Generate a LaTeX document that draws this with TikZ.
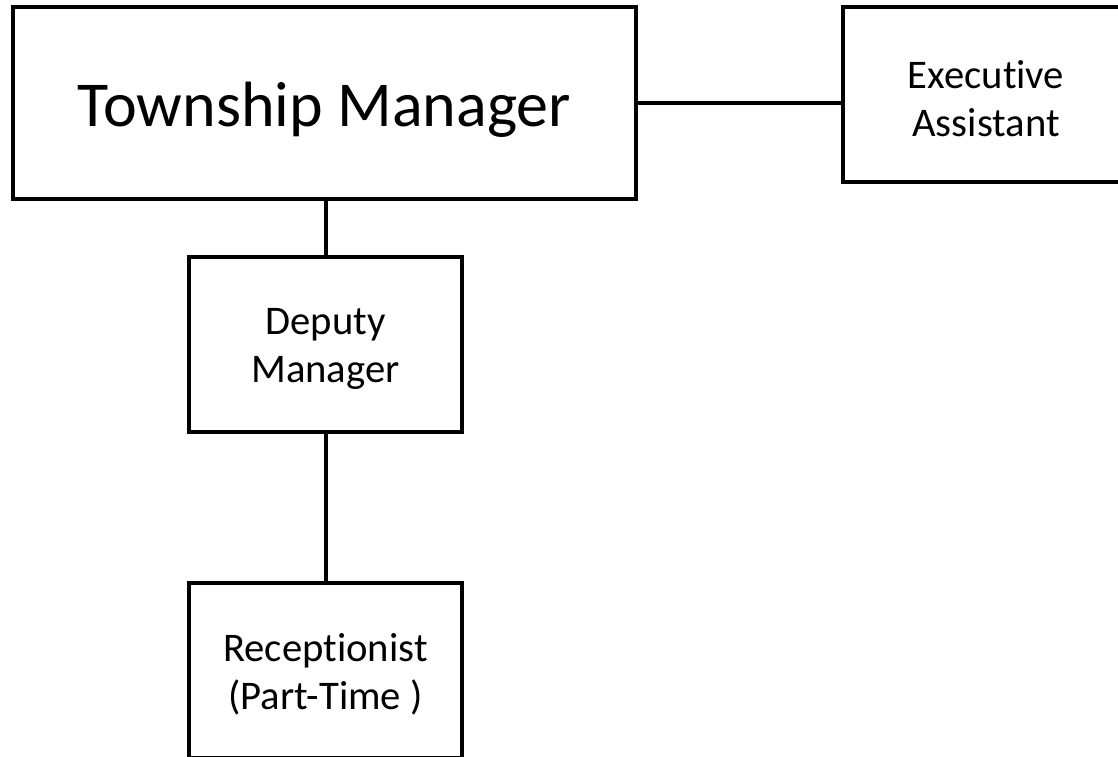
\documentclass[tikz,border=0pt]{standalone}
\usepackage{fontspec}
\setmainfont[Ligatures={NoCommon}]{Carlito}
\begin{document}
\begin{tikzpicture}[x=0.75pt,y=-0.75pt,
  box/.style={draw=black,line width=3pt,rectangle,inner sep=0pt,
    minimum width=204.75pt,minimum height=131.25pt},
  txt/.style={align=center,inner sep=0pt,yshift=-3pt,
    font=\fontsize{30.5pt}{36pt}\selectfont},
  bigtxt/.style={align=center,inner sep=0pt,yshift=-5.25pt,
    font=\fontsize{48pt}{56pt}\selectfont},
  conn/.style={draw=black,line width=3pt}]
\useasboundingbox (0,0) rectangle (1118,757);
\clip (0,0) rectangle (1118,757);
\fill[white] (0,0) rectangle (1118,757);
\node[box,minimum width=467.25pt,minimum height=144pt,
  label={[bigtxt]center:Township Manager}] (tm) at (324.5,103) {};
\node[box,minimum width=214.5pt,
  label={[txt]center:Executive\\Assistant}] (ea) at (986,94.5) {};
\node[box,label={[txt]center:Deputy\\Manager}] (dm) at (325.5,344.5) {};
\node[box,label={[txt]center:Receptionist\\(Part-Time )}] (rc) at (325.5,670.5) {};
\draw[conn] (tm.east |- 0,103) -- (ea.west |- 0,103);
\draw[conn] (tm.south -| dm.north) -- (dm.north);
\draw[conn] (dm.south) -- (rc.north);
\end{tikzpicture}
\end{document}
